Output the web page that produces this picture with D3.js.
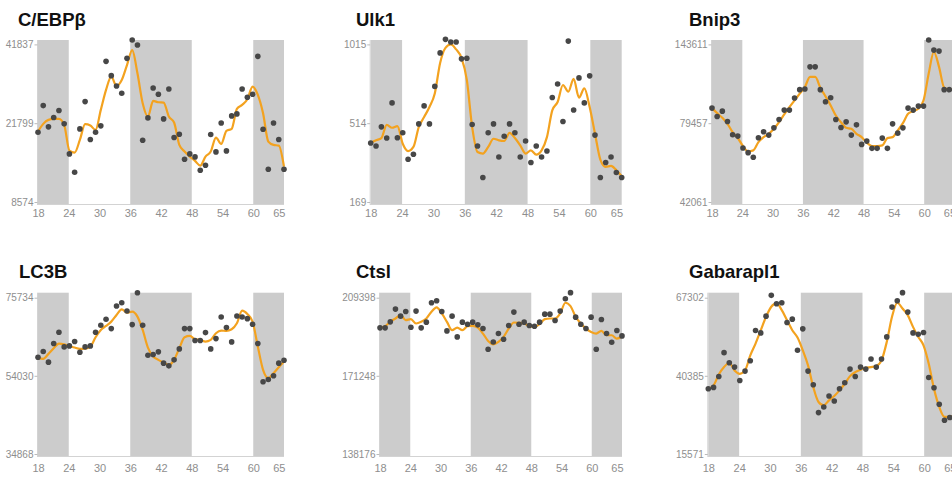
<!DOCTYPE html>
<html lang="en">
<head>
    <meta charset="utf-8">
    <title>Autophagy genes, circadian profiles</title>
    <style type="text/css">
    body {
        margin: 0;
        background-color: #fff;
    }
    svg {
        display: block;
        font-family: "Liberation Sans", Arial, sans-serif;
    }
    .title {
        font-size: 18.5px;
        font-weight: bold;
        fill: #111;
    }
    .axis text {
        fill: #8e8e8e;
        font-family: "Liberation Sans", Arial, sans-serif;
    }
    .axis line {
        stroke: #bbb;
    }
    .frame {
        stroke: #d3d3d3;
        stroke-width: 1px;
    }
    .band {
        fill: #cccccc;
    }
    .fit {
        fill: none;
        stroke: #f3a21f;
        stroke-width: 2.2px;
    }
    .dot {
        fill: #474747;
    }
    </style>
    <script src="https://d3js.org/d3.v7.min.js"></script>
</head>
<body>
<div id="chart"></div>
<script>

// sampling times (hours)
var hours = [18, 19, 20, 21, 22, 23, 24, 25, 26, 27, 28, 29, 30, 31, 32, 33, 34, 35, 36, 37, 38, 39, 40, 41,
             42, 43, 44, 45, 46, 47, 48, 49, 50, 51, 52, 53, 54, 55, 56, 57, 58, 59, 60, 61, 62, 63, 64, 65];
var xTicks = [18, 24, 30, 36, 42, 48, 54, 60, 65];
// dark phases drawn as gray bands
var nightBands = [[18, 24], [36, 48], [60, 66]];

var genes = ["C/EBPβ", "Ulk1", "Bnip3", "LC3B", "Ctsl", "Gabarapl1"];

// y tick labels (min, mid, max) of every panel
var ticksCebpb = [8574, 21799, 41837];
var ticksUlk1 = [169, 514, 1015];
var ticksBnip3 = [42061, 79457, 143611];
var ticksLc3b = [34868, 54030, 75734];
var ticksCtsl = [138176, 171248, 209398];
var ticksGabarapl1 = [15571, 40385, 67302];

// measured values (dots)
var ptsCebpb = [20286, 26280, 21183, 23236, 25012, 21687, 16643, 13561, 20846, 27295, 19053, 20286, 21351, 37525, 33890, 31269,
                29409, 38286, 42937, 41668, 18941, 23152, 30761, 29155, 22898, 30508, 19389, 19950, 15747, 16643, 16139, 13897,
                14738, 19894, 16980, 21855, 17148, 23659, 24166, 30508, 28394, 29155, 38794, 20790, 14065, 21855, 19053, 14065];
var ptsUlk1 = [427, 414, 498, 449, 643, 450, 472, 356, 378, 511, 624, 511, 748, 961, 1047, 1030,
               1030, 923, 927, 508, 414, 276, 472, 511, 366, 457, 511, 472, 366, 436, 342, 414,
               366, 392, 677, 763, 525, 1036, 598, 802, 643, 815, 462, 276, 342, 366, 298, 276];
var ptsBnip3 = [91742, 84917, 89285, 80822, 73957, 73329, 67672, 65472, 63273, 72543, 75372, 73800, 77257, 82460, 90104, 90104,
                99932, 106757, 107303, 125321, 125321, 106757, 96929, 100205, 82460, 77414, 80549, 73800, 78671, 69401, 70972, 67515,
                67515, 72386, 67515, 79143, 74743, 77257, 91742, 90104, 93380, 93380, 147161, 138971, 138152, 106757, 106757, 106757];
var ptsLc3b = [59202, 60772, 57817, 62989, 66129, 62065, 62342, 63543, 60588, 62065, 62342, 66129, 68069, 69731, 67145, 73426,
               74349, 72040, 68253, 77120, 68069, 59756, 59941, 60680, 57540, 56801, 58463, 61511, 67145, 67145, 63820, 63820,
               66037, 61511, 64374, 70378, 67422, 63451, 70655, 70378, 69916, 68346, 62989, 52556, 53129, 54030, 57540, 58371];
var ptsCtsl = [194661, 194661, 197609, 203830, 200392, 202684, 194989, 202848, 194661, 197445, 206941, 207924, 202684, 193188, 200392, 190241,
               197445, 196462, 197445, 196135, 194334, 184183, 187785, 191878, 189095, 195808, 202357, 196462, 197445, 195808, 195480, 197445,
               201374, 201374, 198263, 202848, 208906, 211853, 199901, 196462, 194334, 199901, 184183, 198755, 191878, 187621, 193352, 190732];
var ptsGabarapl1 = [36285, 36705, 40175, 48356, 44890, 43389, 38913, 42002, 45583, 55980, 55172, 60948, 68110, 65222, 65568, 58753,
                    59908, 49165, 56558, 42002, 37546, 28714, 30502, 33971, 32394, 36285, 38177, 42695, 40175, 43389, 42695, 46161,
                    43389, 46161, 53785, 64067, 66261, 69034, 62334, 55172, 54709, 55287, 39859, 36600, 31343, 26296, 27137, 27663];

// fitted curve (orange line)
var fitCebpb = [20398, 21687, 22644, 22898, 22898, 21519, 17204, 16868, 18997, 21631, 21407, 20678, 25181, 30254, 33636, 31269,
                32791, 36595, 40400, 34481, 26872, 23490, 27464, 27126, 27041, 23490, 21968, 18156, 17036, 16195, 15466, 14682,
                16195, 17036, 19389, 18325, 20510, 20846, 25435, 26449, 27887, 31100, 28986, 24335, 18717, 18156, 18044, 14514];
var fitUlk1 = [427, 439, 449, 507, 494, 501, 424, 392, 410, 497, 553, 617, 703, 897, 993, 1015,
               983, 929, 789, 497, 388, 381, 410, 446, 439, 436, 472, 449, 417, 381, 395, 376,
               395, 453, 596, 649, 757, 714, 796, 677, 735, 617, 468, 355, 323, 327, 308, 282];
var fitBnip3 = [91742, 87647, 83825, 79143, 75214, 72386, 68615, 66101, 66572, 70501, 72858, 74429, 76786, 80276, 86555, 92561,
                98021, 103481, 108941, 117131, 117131, 108395, 101297, 93926, 85736, 80276, 77257, 76786, 74429, 72858, 70186, 68615,
                68615, 68929, 72386, 72858, 76000, 79457, 87101, 89285, 91196, 98021, 119861, 137606, 125321, 108395, 106757, 106757];
var fitLc3b = [58925, 58740, 60126, 61696, 62989, 62804, 62342, 61881, 61511, 61604, 62158, 64744, 66776, 67884, 69085, 70932,
               72502, 71578, 71855, 70470, 66776, 61881, 59387, 58463, 57724, 57077, 58463, 61696, 64744, 65113, 64190, 64005,
               63543, 64005, 65852, 66591, 66499, 66960, 68623, 72133, 71209, 69085, 62158, 55692, 53457, 54769, 56431, 58001];
var fitCtsl = [194661, 195480, 197609, 199246, 200883, 198427, 198918, 196790, 197609, 199246, 202520, 204649, 201702, 197609, 193515, 194825,
               193515, 195480, 195644, 194825, 191878, 188276, 186639, 187785, 190241, 194334, 197281, 197117, 196790, 195480, 195153, 196462,
               198918, 199246, 199246, 201702, 206941, 205304, 200064, 196790, 194334, 192697, 191878, 193188, 191059, 191059, 189422, 190568];
var fitGabarapl1 = [36285, 37336, 40847, 43389, 44890, 42233, 41078, 42233, 47432, 51475, 56096, 60717, 64182, 65337, 63027, 59561,
                    56096, 53554, 49165, 43966, 36810, 32079, 31027, 32604, 33971, 35759, 37862, 40280, 41656, 42464, 43157, 43389,
                    43735, 45699, 52053, 60717, 65568, 63604, 61294, 57251, 53785, 50897, 44544, 36285, 30502, 27348, 27348, 27874];

var width = 952, height = 477;

// two rows of panels: band top/bottom, y of the three ticks, title and x label offsets
var rows = [
    { top: 40, bottom: 204, yTicks: [202, 123.2, 44.4], titleY: 25.5, labelPad: 5 },
    { top: 292.7, bottom: 456, yTicks: [454, 375.8, 297.7], titleY: 278, labelPad: 8 }
];

// left/right edge of each plot area and title position
var panels = [
    { gene: genes[0], ticks: ticksCebpb, pts: ptsCebpb, fit: fitCebpb, row: 0, left: 38, right: 284, titleX: 18 },
    { gene: genes[1], ticks: ticksUlk1, pts: ptsUlk1, fit: fitUlk1, row: 0, left: 370.7, right: 621.7, titleX: 356 },
    { gene: genes[2], ticks: ticksBnip3, pts: ptsBnip3, fit: fitBnip3, row: 0, left: 712, right: 954.5, titleX: 689 },
    { gene: genes[3], ticks: ticksLc3b, pts: ptsLc3b, fit: fitLc3b, row: 1, left: 38, right: 284, titleX: 19 },
    { gene: genes[4], ticks: ticksCtsl, pts: ptsCtsl, fit: fitCtsl, row: 1, left: 380, right: 622, titleX: 356 },
    { gene: genes[5], ticks: ticksGabarapl1, pts: ptsGabarapl1, fit: fitGabarapl1, row: 1, left: 708.3, right: 955, titleX: 689 }
];

var svg = d3.select('#chart')
    .append('svg')
    .attr('width', width)
    .attr('height', height);

panels.forEach(function(p) {
    var r = rows[p.row];
    var g = svg.append('g');

    // axis + bands run 18..66, the samples are spread over the same width (18..65)
    var x = d3.scaleLinear().domain([18, 66]).range([p.left, p.right]);
    var xPt = d3.scaleLinear().domain([18, 65]).range([p.left, p.right]);
    // the three labelled values sit evenly spaced on the axis
    var y = d3.scaleLinear().domain(p.ticks).range(r.yTicks);

    g.selectAll('.band')
        .data(nightBands)
        .enter()
        .append('rect')
        .attr('class', 'band')
        .attr('x', function(d) { return x(d[0]); })
        .attr('width', function(d) { return x(d[1]) - x(d[0]); })
        .attr('y', r.top)
        .attr('height', r.bottom - r.top);

    // thin frame lines at left and bottom
    g.append('line').attr('class', 'frame')
        .attr('x1', p.left - 0.5).attr('x2', p.left - 0.5)
        .attr('y1', r.top).attr('y2', r.bottom);
    g.append('line').attr('class', 'frame')
        .attr('x1', p.left - 1).attr('x2', p.right)
        .attr('y1', r.bottom + 0.5).attr('y2', r.bottom + 0.5);

    var yAxis = d3.axisLeft(y)
        .tickValues(p.ticks)
        .tickSize(3)
        .tickPadding(1)
        .tickFormat(d3.format('d'));
    var yAxisG = g.append('g')
        .attr('class', 'axis')
        .attr('transform', 'translate(' + (p.left - 0.5) + ',0)')
        .call(yAxis);
    yAxisG.select('.domain').remove();
    yAxisG.selectAll('text').style('font-size', '10px');

    var xAxis = d3.axisBottom(x)
        .tickValues(xTicks)
        .tickSize(0)
        .tickPadding(r.labelPad);
    var xAxisG = g.append('g')
        .attr('class', 'axis')
        .attr('transform', 'translate(0,' + r.bottom + ')')
        .call(xAxis);
    xAxisG.select('.domain').remove();
    xAxisG.selectAll('text').style('font-size', '11px');

    var line = d3.line()
        .x(function(d, i) { return xPt(hours[i]); })
        .y(function(d) { return y(d); })
        .curve(d3.curveMonotoneX);

    g.append('path')
        .datum(p.fit)
        .attr('class', 'fit')
        .attr('d', line);

    g.selectAll('.dot')
        .data(p.pts)
        .enter()
        .append('circle')
        .attr('class', 'dot')
        .attr('cx', function(d, i) { return xPt(hours[i]); })
        .attr('cy', function(d) { return y(d); })
        .attr('r', 2.8);

    g.append('text')
        .attr('class', 'title')
        .attr('x', p.titleX)
        .attr('y', r.titleY)
        .text(p.gene);
});

</script>
</body>
</html>
